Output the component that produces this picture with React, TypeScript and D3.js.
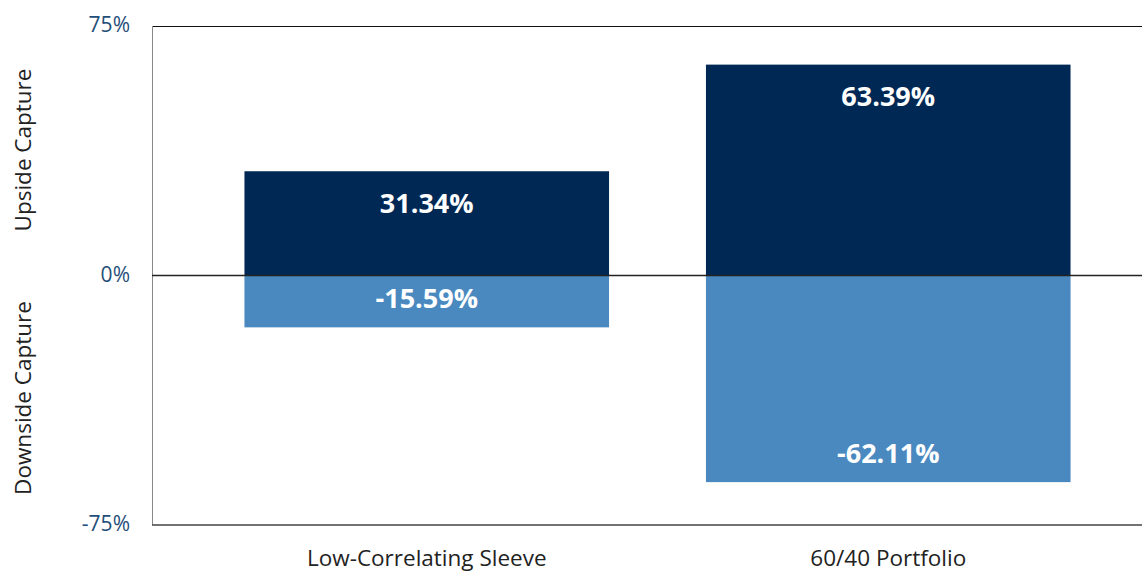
import React from "react";
import * as d3 from "d3";

const categories = ["Low-Correlating Sleeve", "60/40 Portfolio"];
const upsideValues = [31.34, 63.39];
const downsideValues = [-15.59, -62.11];
const yTicks = [75, 0, -75];

const W = 1142;
const H = 571;

export default function App() {
  const y = d3.scaleLinear().domain([-75, 75]).range([525, 26]);
  const x = d3
    .scaleBand<string>()
    .domain(categories)
    .range([196, 1119])
    .paddingInner(0.21)
    .paddingOuter(0.105);
  const font = "'Open Sans', 'Noto Sans', sans-serif";
  const navy = "#002855";
  const light = "#4a89bf";
  const bw = x.bandwidth();

  return (
    <svg
      width={W}
      height={H}
      style={{ position: "absolute", left: 0, top: 0, background: "#fff" }}
      fontFamily={font}
    >
      <line x1={152.5} x2={W} y1={26.5} y2={26.5} stroke="#111" strokeWidth={1} />
      <line x1={152.5} x2={152.5} y1={26} y2={525} stroke="#888" strokeWidth={1} />
      <line x1={152} x2={W} y1={525} y2={525} stroke="#444" strokeWidth={1.5} />

      {categories.map((c, i) => {
        const x0 = x(c)!;
        const up = upsideValues[i];
        const dn = downsideValues[i];
        return (
          <g key={c}>
            <rect x={x0} y={y(up)} width={bw} height={y(0) - y(up)} fill={navy} />
            <rect x={x0} y={y(0)} width={bw} height={y(dn) - y(0)} fill={light} />
            <text
              x={x0 + bw / 2}
              y={y(up) + 31}
              textAnchor="middle"
              dominantBaseline="central"
              fill="#fff"
              fontWeight="bold"
              fontSize={27}
            >
              {up.toFixed(2)}%
            </text>
            <text
              x={x0 + bw / 2}
              y={y(dn) - 30}
              textAnchor="middle"
              dominantBaseline="central"
              fill="#fff"
              fontWeight="bold"
              fontSize={27}
            >
              {dn.toFixed(2)}%
            </text>
            <text
              x={x0 + bw / 2}
              y={557}
              textAnchor="middle"
              dominantBaseline="central"
              fill="#222"
              fontSize={22.5}
            >
              {c}
            </text>
          </g>
        );
      })}

      <line x1={152} x2={W} y1={y(0)} y2={y(0)} stroke="#222" strokeWidth={1.5} />

      {yTicks.map((t) => (
        <text
          key={t}
          x={130}
          y={y(t) - 2}
          textAnchor="end"
          dominantBaseline="central"
          fill="#1f4e79"
          fontSize={21}
        >
          {t}%
        </text>
      ))}

      <text
        transform={`translate(22,${150}) rotate(-90)`}
        textAnchor="middle"
        dominantBaseline="central"
        fill="#222"
        fontSize={22.5}
      >
        Upside Capture
      </text>
      <text
        transform={`translate(22,${398}) rotate(-90)`}
        textAnchor="middle"
        dominantBaseline="central"
        fill="#222"
        fontSize={22.5}
      >
        Downside Capture
      </text>
    </svg>
  );
}
